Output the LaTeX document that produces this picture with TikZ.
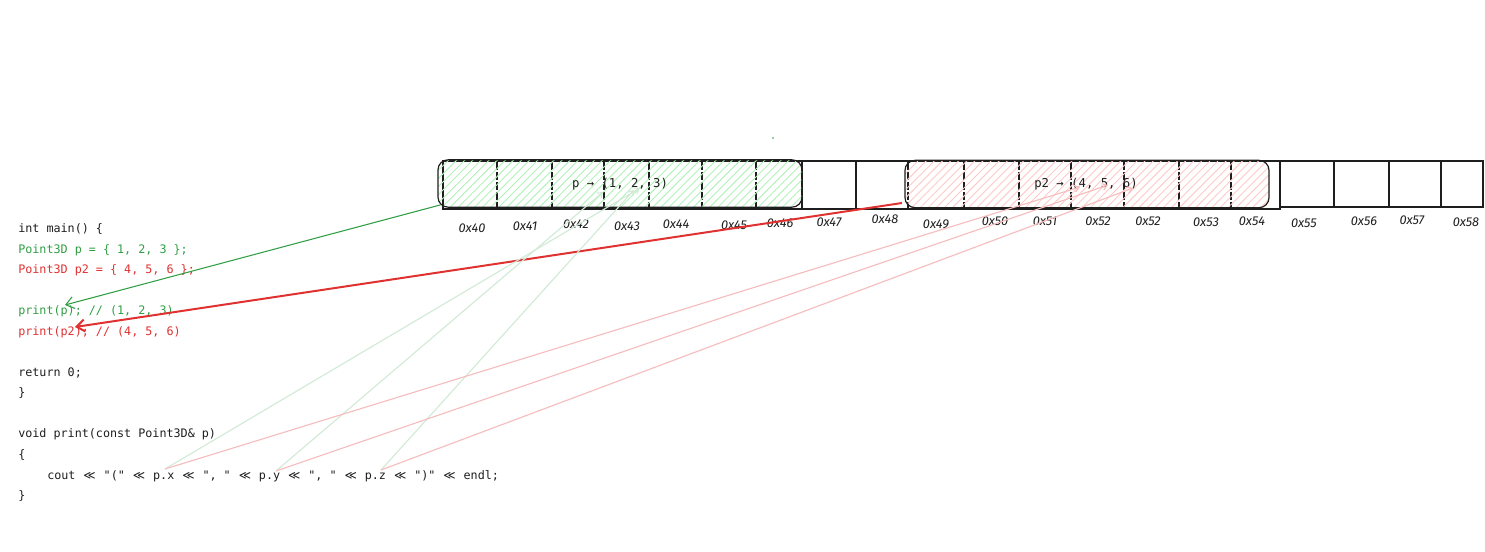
\documentclass[tikz,border=0pt]{standalone}
\usepackage{fontspec}
\setmonofont{DejaVu Sans Mono}
\newfontfamily\handfont{Fira Sans}
\newfontfamily\symfont{DejaVu Sans}
\usepackage{tikz}
\usetikzlibrary{positioning,arrows.meta,patterns.meta}
\definecolor{codegreen}{HTML}{2F9E44}
\definecolor{codered}{HTML}{E03131}
\definecolor{ink}{HTML}{1E1E1E}
\definecolor{hatchgreen}{HTML}{B2F2BB}
\definecolor{hatchred}{HTML}{FFC9C9}
\newcommand{\shl}{\makebox[1.2em][c]{\symfont ≪}}

\begin{document}
\begin{tikzpicture}[
    x=0.75pt, y=-0.75pt,
    code/.style={anchor=base west, inner sep=0pt, text=ink,
                 font=\ttfamily\fontsize{8.8}{10}\selectfont},
    addr/.style={inner sep=0pt, text=ink,
                 font=\handfont\itshape\fontsize{9.6}{10}\selectfont},
    val/.style={inner sep=0pt, text=ink,
                font=\ttfamily\fontsize{9.2}{10}\selectfont},
    varbox/.style={draw=ink, line width=0.9pt, rounded corners=7.5pt,
                   minimum width=273pt, minimum height=35.5pt, inner sep=0pt},
    cell/.style={draw=ink, line width=0.9pt},
    divider/.style={draw=ink, line width=0.8pt, dash pattern=on 6pt off 1.5pt},
    link/.style={-{Straight Barb[length=6pt,width=9pt]}},
    faint/.style={line width=0.85pt, -{Straight Barb[length=3.5pt,width=5pt]}},
  ]
  \useasboundingbox (0,0) rectangle (1485,552);

  % memory strip
  \draw[cell] (443,161) rectangle (1280,209);
  \draw[cell] (1280,161) rectangle (1483,207);
  \foreach \x in {802,856,1334,1389,1441}
    \draw[cell] (\x,161) -- (\x,208);
  \foreach \x in {443,497,552,604,649,702,756,908,964,1019,1071,1124,1179,1231}
    \draw[divider] (\x,162) -- (\x,208);

  % variables
  \node[varbox, pattern={Lines[angle=45,distance=4.3pt,line width=0.7pt]},
        pattern color=hatchgreen] (pbox) at (620,183.5) {};
  \node[varbox, pattern={Lines[angle=45,distance=4.3pt,line width=0.7pt]},
        pattern color=hatchred] (ptwobox) at (1087,184) {};
  \node[val] (pval) at (620,184) {p → (1, 2, 3)};
  \node[val] (ptwoval) at (1086,184) {p2 → (4, 5, 6)};

  % addresses
  \foreach \lbl/\x/\y [count=\i] in {40/472/228, 41/525/226, 42/576/224, 43/627/226,
      44/676/224, 45/734/225, 46/780/223, 47/829/222, 48/885/219, 49/936/224,
      50/995/221, 51/1045/221, 52/1098/221, 52/1148/221, 53/1206/222, 54/1252/221,
      55/1304/223, 56/1364/221, 57/1412/220, 58/1466/222}
    \node[addr] (addr\i) at (\x,\y) {0x\lbl};

  % source code
  \node[code] (main) at (18,233) {int main() \{};
  \node[code, text=codegreen] (decl) at (18,254) {Point3D p = \{ 1, 2, 3 \};};
  \node[code, text=codered] (decltwo) at (18,274) {Point3D p2 = \{ 4, 5, 6 \};};
  \node[code, text=codegreen] (call) at (18,315) {print(p); // (1, 2, 3)};
  \node[code, text=codered] (calltwo) at (18,335) {print(p2); // (4, 5, 6)};
  \node[code] (ret) at (18,376) {return 0;};
  \node[code] (mainend) at (18,396) {\}};
  \node[code] (func) at (18,437) {void print(const Point3D\& p)};
  \node[code] (funcopen) at (18,458) {\{};
  \node[code] (cout) at (47,479) {cout \shl{} "(" \shl{} p.x \shl{} ", " \shl{} p.y \shl{} ", " \shl{} p.z \shl{} ")" \shl{} endl;};
  \node[code] (funcend) at (18,499) {\}};

  \coordinate (usex) at (165,469);
  \coordinate (usey) at (276,471);
  \coordinate (usez) at (381,470);
  \coordinate (argp) at (65,305);
  \coordinate (argptwo) at (75,327);

  % calls
  \draw[link, codegreen, line width=0.8pt] ([xshift=2pt,yshift=2pt]pbox.south west) -- (argp);
  \draw[link, codered, line width=1.5pt] (902,203) -- (argptwo);

  % member reads
  \draw[faint, codegreen!22] (usex) -- (640,188);
  \draw[faint, codegreen!22] (usey) -- (603,192);
  \draw[faint, codegreen!22] (usez) -- (634,190);
  \draw[faint, codered!32] (usex) -- (1080,187);
  \draw[faint, codered!32] (usey) -- (1108,185);
  \draw[faint, codered!32] (usez) -- (1133,188);

  \fill[codegreen] (773,138) circle (0.8);
\end{tikzpicture}
\end{document}
